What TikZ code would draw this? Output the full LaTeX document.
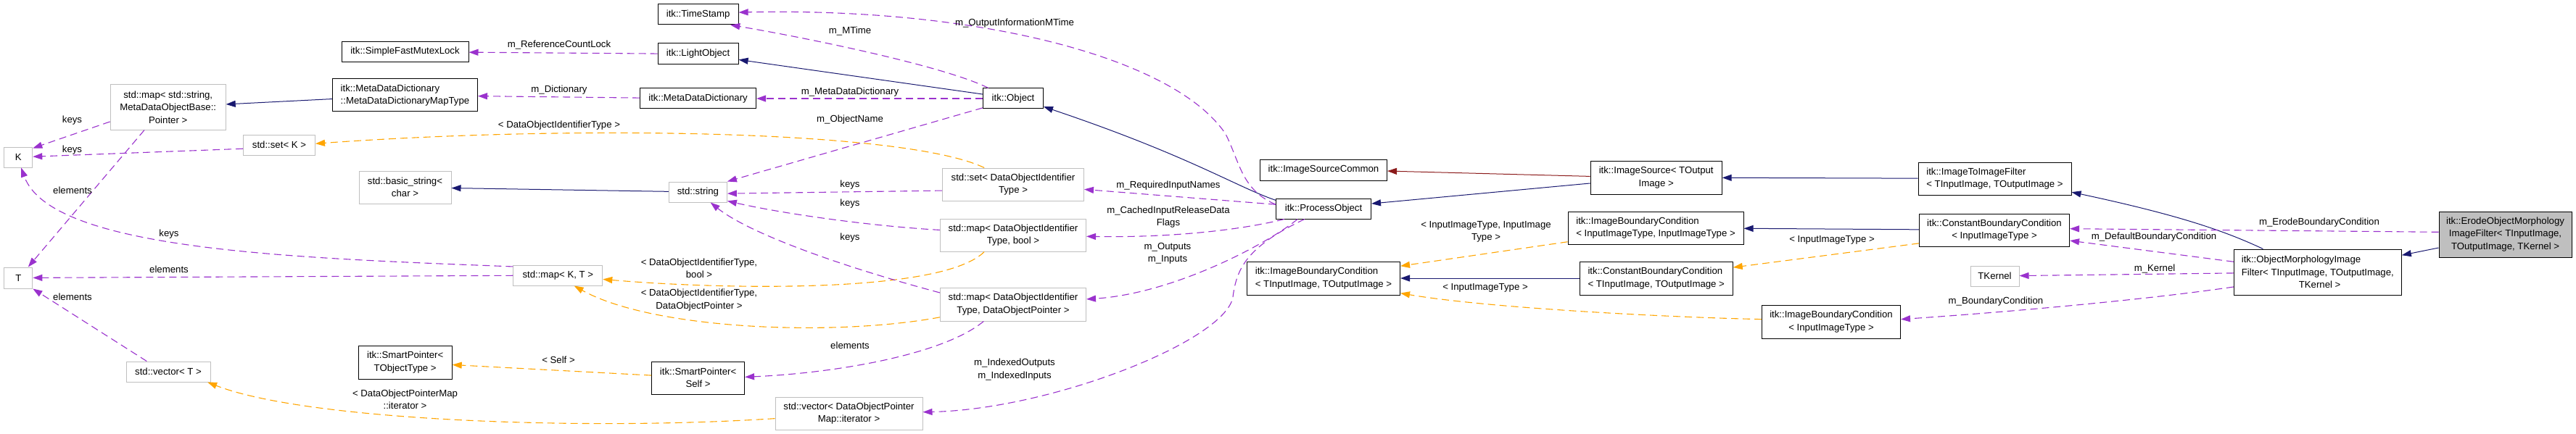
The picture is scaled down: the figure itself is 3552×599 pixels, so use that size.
\documentclass[tikz,border=0pt]{standalone}
\usepackage{fontspec}
\setmainfont{Liberation Sans}
\usetikzlibrary{arrows.meta}
\definecolor{Navy}{HTML}{191970}
\definecolor{Brick}{HTML}{8B1A1A}
\definecolor{Tmpl}{HTML}{FFA500}
\definecolor{Orchid}{HTML}{9A32CD}
\definecolor{Frame}{HTML}{BFBFBF}
\definecolor{Focus}{HTML}{BFBFBF}
\tikzset{
  cls/.style={draw=black,fill=white,line width=1pt,inner sep=0pt,align=center,font=\fontsize{13.2pt}{17.3pt}\selectfont},
  ext/.style={cls,draw=Frame},
  focus/.style={cls,fill=Focus},
  lbl/.style={inner sep=0pt,align=center,font=\fontsize{13.2pt}{17.3pt}\selectfont},
  inh/.style={-{Triangle[length=13pt,width=9pt]},draw=Navy,line width=1pt},
  priv/.style={inh,draw=Brick},
  tpl/.style={-{Triangle[length=13pt,width=9pt]},draw=Tmpl,line width=1.1pt,dash pattern=on 10pt off 6pt},
  usage/.style={tpl,draw=Orchid}
}
\begin{document}
\begin{tikzpicture}[x=1pt,y=-1pt]
  \useasboundingbox (0,0) rectangle (3552,599);

  \node[cls,minimum width=175pt,minimum height=28pt] (sfml) at (558.5,71.5) {itk::SimpleFastMutexLock};
  \node[cls,align=left,minimum width=200pt,minimum height=45pt] (mdmt) at (558.5,131.5) {itk::MetaDataDictionary\\::MetaDataDictionaryMapType};
  \node[ext,minimum width=159pt,minimum height=62pt] (mapsp) at (231.7,148) {std::map< std::string,\\MetaDataObjectBase::\\Pointer >};
  \node[ext,minimum width=39pt,minimum height=28pt] (K) at (25.3,217) {K};
  \node[ext,minimum width=99pt,minimum height=28pt] (setk) at (385,200) {std::set< K >};
  \node[ext,minimum width=127pt,minimum height=45pt] (bstr) at (558.5,258.5) {std::basic\_string<\\char >};
  \node[ext,minimum width=39pt,minimum height=29pt] (T) at (25.3,383.5) {T};
  \node[ext,minimum width=116pt,minimum height=28pt] (vect) at (232,513) {std::vector< T >};
  \node[cls,minimum width=129pt,minimum height=46pt] (spto) at (558.7,500) {itk::SmartPointer<\\TObjectType >};
  \node[cls,minimum width=111pt,minimum height=28pt] (ts) at (962.6,20) {itk::TimeStamp};
  \node[cls,minimum width=111pt,minimum height=29pt] (lo) at (962.6,74.5) {itk::LightObject};
  \node[cls,minimum width=160pt,minimum height=28pt] (mdd) at (962.6,136) {itk::MetaDataDictionary};
  \node[ext,minimum width=80pt,minimum height=28pt] (str) at (962.4,265) {std::string};
  \node[ext,minimum width=123pt,minimum height=28pt] (mapkt) at (769.3,380) {std::map< K, T >};
  \node[cls,minimum width=128pt,minimum height=45pt] (spself) at (962.6,521.5) {itk::SmartPointer<\\Self >};
  \node[ext,minimum width=203pt,minimum height=45pt] (vecdop) at (1170.5,570.5) {std::vector< DataObjectPointer\\Map::iterator >};
  \node[cls,minimum width=83pt,minimum height=28pt] (obj) at (1397,136) {itk::Object};
  \node[ext,minimum width=195pt,minimum height=45pt] (setdo) at (1397,254.5) {std::set< DataObjectIdentifier\\Type >};
  \node[ext,minimum width=201pt,minimum height=45pt] (mapbool) at (1397,324.5) {std::map< DataObjectIdentifier\\Type, bool >};
  \node[ext,minimum width=201pt,minimum height=46pt] (mapdop) at (1397,420) {std::map< DataObjectIdentifier\\Type, DataObjectPointer >};
  \node[cls,minimum width=175pt,minimum height=29pt] (isc) at (1825,234.5) {itk::ImageSourceCommon};
  \node[cls,minimum width=131pt,minimum height=28pt] (po) at (1825,288) {itk::ProcessObject};
  \node[cls,align=left,minimum width=211pt,minimum height=46pt] (ibcto) at (1825,384) {itk::ImageBoundaryCondition\\< TInputImage, TOutputImage >};
  \node[cls,minimum width=181pt,minimum height=46pt] (is) at (2283.7,245) {itk::ImageSource< TOutput\\Image >};
  \node[cls,align=left,minimum width=242pt,minimum height=45pt] (ibcii) at (2283,314.5) {itk::ImageBoundaryCondition\\< InputImageType, InputImageType >};
  \node[cls,align=left,minimum width=211pt,minimum height=46pt] (cbcto) at (2283.7,384) {itk::ConstantBoundaryCondition\\< TInputImage, TOutputImage >};
  \node[cls,align=left,minimum width=211pt,minimum height=45pt] (itif) at (2750.5,246.5) {itk::ImageToImageFilter\\< TInputImage, TOutputImage >};
  \node[cls,minimum width=207pt,minimum height=45pt] (cbci) at (2750,317.5) {itk::ConstantBoundaryCondition\\< InputImageType >};
  \node[ext,minimum width=67pt,minimum height=28pt] (tk) at (2750.5,381) {TKernel};
  \node[cls,minimum width=191pt,minimum height=46pt] (ibci) at (2525,444) {itk::ImageBoundaryCondition\\< InputImageType >};
  \node[cls,align=left,minimum width=231pt,minimum height=63pt] (omf) at (3195.8,375.5) {itk::ObjectMorphologyImage\\Filter< TInputImage, TOutputImage,\\\hspace*{79pt}TKernel >};
  \node[focus,minimum width=183pt,minimum height=63pt] (erode) at (3454.5,323.5) {itk::ErodeObjectMorphology\\ImageFilter< TInputImage,\\TOutputImage, TKernel >};

  \draw[inh] (obj) -- (lo);
  \draw[inh] (po.170) .. controls (1705,258) and (1640,215) .. (obj.-15);
  \draw[inh] (is.185) -- (po.6);
  \draw[priv] (is.179) -- (isc.-1);
  \draw[inh] (itif) -- (is);
  \draw[inh] (omf.157) .. controls (3070,320) and (3010,298) .. (itif.-10);
  \draw[inh] (erode) -- (omf);
  \draw[inh] (str) -- (bstr);
  \draw[inh] (mdmt) -- (mapsp);
  \draw[inh] (cbcto) -- (ibcto);
  \draw[inh] (cbci) -- (ibcii);

  \draw[tpl] (setdo.150) .. controls (1250,180) and (800,172) .. (setk.2);
  \draw[tpl] (mapbool.210) .. controls (1300,405) and (1000,400) .. (mapkt.-5);
  \draw[tpl] (mapdop.190) .. controls (1150,465) and (900,455) .. (mapkt.-33);
  \draw[tpl] (spself) -- (spto);
  \draw[tpl] (vecdop.184) .. controls (800,595) and (420,580) .. (vect.-15);
  \draw[tpl] (ibcii.189) -- (ibcto.9);
  \draw[tpl] (ibci.178) .. controls (2300,438) and (2050,425) .. (ibcto.-11);
  \draw[tpl] (cbci.190) -- (cbcto.8);

  \draw[usage] (mapsp.194) -- (K.32);
  \draw[usage] (setk.186) -- (K);
  \draw[usage] (mapkt.169) .. controls (400,356) and (70,345) .. (K.-75);
  \draw[usage] (mapsp.224) -- (T.48);
  \draw[usage] (mapkt) -- (T);
  \draw[usage] (vect.154) -- (T.south east);
  \draw[usage] (lo) -- (sfml);
  \draw[usage] (mdd) -- (mdmt);
  \draw[usage] (obj.157) .. controls (1300,90) and (1100,50) .. (ts.-18);
  \draw[usage] (po.175) .. controls (1712,262) and (1710,225) .. (1690,185) .. controls (1620,80) and (1350,10) .. (ts.3);
  \draw[usage] (po.175) -- (setdo.-4);
  \draw[usage] (po.195) .. controls (1700,320) and (1600,328) .. (mapbool.-1);
  \draw[usage] (po.202) .. controls (1750,335) and (1620,405) .. (mapdop.4);
  \draw[usage] (po.209) .. controls (1720,340) and (1705,370) .. (1700,410) .. controls (1690,470) and (1450,565) .. (vecdop.1);
  \draw[usage] (obj) -- (mdd);
  \draw[usage] (obj.197) -- (str.north east);
  \draw[usage] (setdo.185) -- (str.-3);
  \draw[usage] (mapbool.176) .. controls (1200,312) and (1080,295) .. (str.-17);
  \draw[usage] (mapdop.171) .. controls (1150,365) and (1030,320) .. (str.-40);
  \draw[usage] (mapdop.210) .. controls (1300,490) and (1150,515) .. (spself.1);
  \draw[usage] (erode.178) -- (cbci.1);
  \draw[usage] (omf.173) -- (cbci.-8);
  \draw[usage] (omf) -- (tk);
  \draw[usage] (omf.190) .. controls (2950,415) and (2750,432) .. (ibci.2);

  \node[lbl] (lk1) at (99.5,166) {keys};
  \node[lbl] (lk2) at (99.5,207) {keys};
  \node[lbl] (le1) at (100,263) {elements};
  \node[lbl] (lk3) at (233,323) {keys};
  \node[lbl] (le2) at (233,372) {elements};
  \node[lbl] (le3) at (100,410) {elements};
  \node[lbl] (lvec) at (558.5,551) {< DataObjectPointerMap\\::iterator >};
  \node[lbl] (lrcl) at (771,62) {m\_ReferenceCountLock};
  \node[lbl] (ldict) at (771,124) {m\_Dictionary};
  \node[lbl] (lset) at (771,173) {< DataObjectIdentifierType >};
  \node[lbl] (lself) at (770,497) {< Self >};
  \node[lbl] (lbool) at (964,370) {< DataObjectIdentifierType,\\bool >};
  \node[lbl] (ldop) at (964,414) {< DataObjectIdentifierType,\\DataObjectPointer >};
  \node[lbl] (lmt) at (1172,43) {m\_MTime};
  \node[lbl] (lmdd) at (1172,127) {m\_MetaDataDictionary};
  \node[lbl] (lname) at (1172,165) {m\_ObjectName};
  \node[lbl] (lk4) at (1172,255) {keys};
  \node[lbl] (lk5) at (1172,281) {keys};
  \node[lbl] (lk6) at (1172,328) {keys};
  \node[lbl] (le4) at (1172,477) {elements};
  \node[lbl] (loimt) at (1399,32) {m\_OutputInformationMTime};
  \node[lbl] (lidx) at (1399,510) {m\_IndexedOutputs\\m\_IndexedInputs};
  \node[lbl] (lreq) at (1611,256) {m\_RequiredInputNames};
  \node[lbl] (lcache) at (1611,299.5) {m\_CachedInputReleaseData\\Flags};
  \node[lbl] (lio) at (1610,350) {m\_Outputs\\m\_Inputs};
  \node[lbl] (lii) at (2049,319.5) {< InputImageType, InputImage\\Type >};
  \node[lbl] (li1) at (2048,397) {< InputImageType >};
  \node[lbl] (li2) at (2526,331) {< InputImageType >};
  \node[lbl] (lbc) at (2752,416) {m\_BoundaryCondition};
  \node[lbl] (ldbc) at (2970,327) {m\_DefaultBoundaryCondition};
  \node[lbl] (lker) at (2971,371) {m\_Kernel};
  \node[lbl] (lebc) at (3198,307) {m\_ErodeBoundaryCondition};
\end{tikzpicture}
\end{document}
